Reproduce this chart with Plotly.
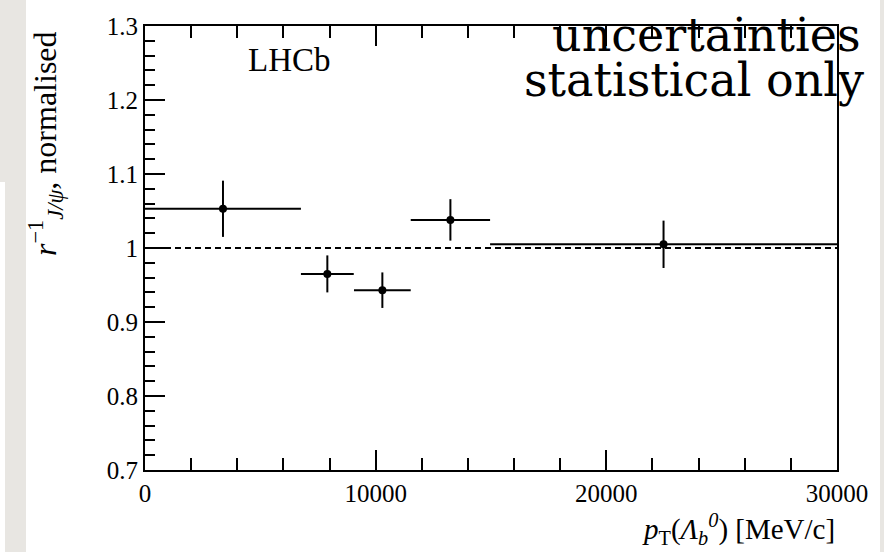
import plotly.graph_objects as go

# data
pt_center = [3380, 7905, 10290, 13240, 22480]
pt_halfwidth = [3380, 1145, 1230, 1720, 7520]
ratio = [1.053, 0.965, 0.943, 1.038, 1.005]
ratio_err = [0.038, 0.025, 0.024, 0.028, 0.032]

ref_x = [0, 30000]
ref_y = [1.0, 1.0]

SERIF = "Liberation Serif"

fig = go.Figure()

fig.add_trace(go.Scatter(
    x=ref_x, y=ref_y, mode="lines",
    line=dict(color="black", width=1.8, dash="6px,4px"),
    hoverinfo="skip", showlegend=False))

fig.add_trace(go.Scatter(
    x=pt_center, y=ratio, mode="markers",
    marker=dict(color="black", size=8),
    error_x=dict(type="data", array=pt_halfwidth, color="black", thickness=2, width=0),
    error_y=dict(type="data", array=ratio_err, color="black", thickness=2, width=0),
    showlegend=False))

# paper coordinate helpers (plot area: x 145..837, y 26..470)
def px(x):
    return (x - 145) / 692.0

def py(y):
    return (470 - y) / 444.0

gray = "#e8e6e2"
shapes = [
    dict(type="rect", xref="paper", yref="paper", x0=px(0), x1=px(26), y0=py(0), y1=py(182),
         fillcolor=gray, line_width=0, layer="below"),
    dict(type="rect", xref="paper", yref="paper", x0=px(5), x1=px(26), y0=py(182), y1=py(552),
         fillcolor=gray, line_width=0, layer="below"),
    dict(type="rect", xref="paper", yref="paper", x0=px(880), x1=px(884), y0=py(0), y1=py(552),
         fillcolor=gray, line_width=0, layer="below"),
]

annotations = [
    dict(text="LHCb", xref="paper", yref="paper", x=px(246), y=py(60),
         xanchor="left", yanchor="middle", showarrow=False,
         font=dict(family=SERIF, size=33, color="black")),
    dict(text="uncertainties", xref="paper", yref="paper", x=px(863), y=py(35),
         xanchor="right", yanchor="middle", showarrow=False,
         font=dict(family="DejaVu Serif", size=46, color="black")),
    dict(text="statistical only", xref="paper", yref="paper", x=px(866), y=py(80),
         xanchor="right", yanchor="middle", showarrow=False,
         font=dict(family="DejaVu Serif", size=46, color="black")),
    dict(text="<i>r</i><sup>\u22121</sup><sub><i>J/\u03c8</i></sub>, normalised",
         xref="paper", yref="paper", x=px(46), y=py(144),
         xanchor="center", yanchor="middle", textangle=-90, showarrow=False,
         font=dict(family=SERIF, size=32, color="black")),
    dict(text="<i>p</i><sub>T</sub>(<i>\u039b</i><sub><i>b</i></sub><sup><i>0</i></sup>) [MeV/c]",
         xref="paper", yref="paper", x=px(837), y=py(529),
         xanchor="right", yanchor="middle", showarrow=False,
         font=dict(family=SERIF, size=29, color="black")),
]

fig.update_layout(
    width=884, height=552,
    margin=dict(l=145, r=47, t=26, b=82),
    paper_bgcolor="white", plot_bgcolor="white",
    shapes=shapes, annotations=annotations,
    showlegend=False,
)

fig.update_xaxes(
    range=[0, 30000], tickvals=[0, 10000, 20000, 30000],
    ticktext=["0", "10000", "20000", "30000"],
    ticks="inside", ticklen=20, tickwidth=1.8, tickcolor="black",
    minor=dict(dtick=2000, ticks="inside", ticklen=12, tickwidth=1.8, tickcolor="black"),
    showline=True, linecolor="black", linewidth=2, mirror="ticks",
    showgrid=False, zeroline=False,
    tickfont=dict(family=SERIF, size=25, color="black"),
)
fig.update_yaxes(
    range=[0.7, 1.3], tickvals=[0.7, 0.8, 0.9, 1.0, 1.1, 1.2, 1.3],
    ticktext=["0.7", "0.8", "0.9", "1", "1.1", "1.2", "1.3"],
    ticks="inside", ticklen=20, tickwidth=1.8, tickcolor="black",
    minor=dict(dtick=0.02, ticks="inside", ticklen=10, tickwidth=1.8, tickcolor="black"),
    showline=True, linecolor="black", linewidth=2, mirror=True,
    showgrid=False, zeroline=False,
    tickfont=dict(family=SERIF, size=25, color="black"),
)

fig.write_html("out.html")
